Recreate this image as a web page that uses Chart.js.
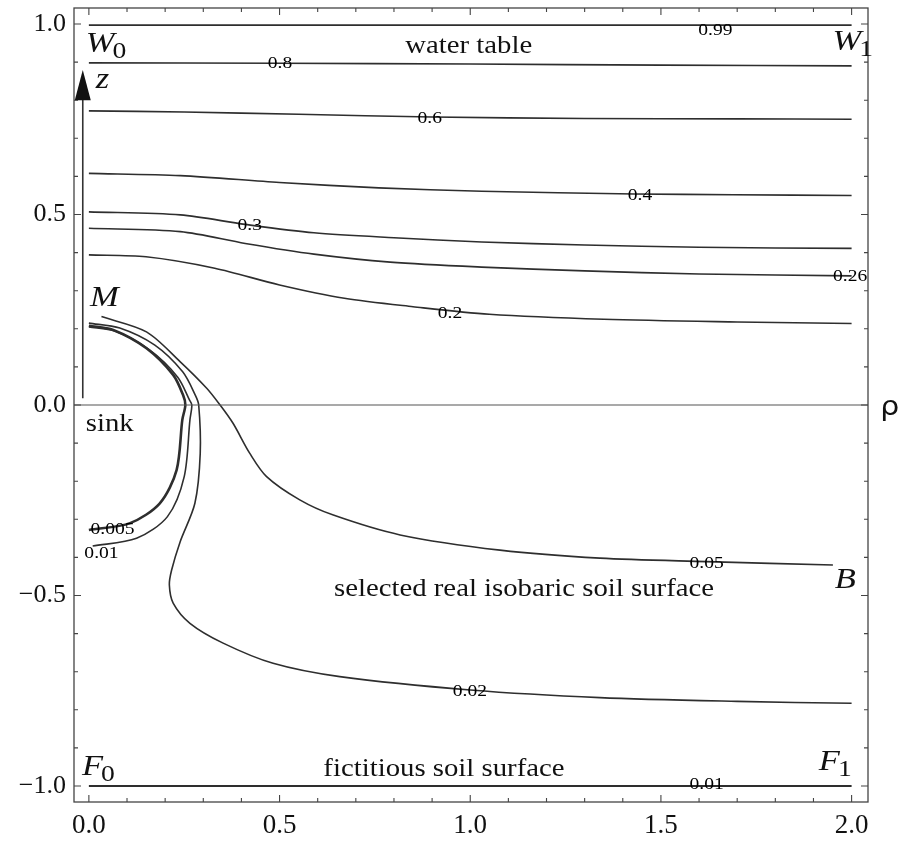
<!DOCTYPE html>
<html>
<head>
<meta charset="utf-8">
<script src="https://cdn.jsdelivr.net/npm/chart.js@4.4.0/dist/chart.umd.min.js"></script>
<style>
  html, body { margin: 0; padding: 0; background: #fff; }
</style>
</head>
<body>
<canvas id="isobarChart" width="900" height="841"></canvas>
<script>
// contour levels (isobars), rho = horizontal, z = vertical
const rho_099 = [0, 2.0];
const z_099   = [0.997, 0.997];

const rho_08 = [0, 0.5, 1.0, 1.5, 2.0];
const z_08   = [0.898, 0.897, 0.895, 0.892, 0.890];

const rho_06 = [0, 0.25, 0.55, 0.9, 1.3, 1.7, 2.0];
const z_06   = [0.772, 0.769, 0.763, 0.756, 0.752, 0.751, 0.750];

const rho_04 = [0, 0.24, 0.5, 0.76, 1.03, 1.43, 1.69, 2.0];
const z_04   = [0.608, 0.602, 0.584, 0.570, 0.561, 0.554, 0.552, 0.550];

const rho_03 = [0, 0.24, 0.41, 0.59, 0.8, 1.03, 1.3, 1.6, 2.0];
const z_03   = [0.507, 0.499, 0.474, 0.452, 0.439, 0.428, 0.420, 0.414, 0.411];

const rho_026 = [0, 0.24, 0.41, 0.59, 0.79, 1.03, 1.3, 1.6, 2.0];
const z_026   = [0.464, 0.455, 0.424, 0.396, 0.375, 0.362, 0.352, 0.344, 0.339];

const rho_02 = [0, 0.15, 0.33, 0.5, 0.67, 0.85, 1.05, 1.35, 1.7, 2.0];
const z_02   = [0.394, 0.389, 0.359, 0.315, 0.280, 0.258, 0.238, 0.225, 0.218, 0.214];

const rho_005 = [0.033, 0.151, 0.239, 0.309, 0.344, 0.378, 0.422, 0.466, 0.553, 0.641, 0.816, 1.078, 1.340, 1.620, 1.951];
const z_005   = [0.232, 0.192, 0.114, 0.044, 0.0, -0.048, -0.127, -0.188, -0.249, -0.289, -0.341, -0.381, -0.402, -0.411, -0.420];

const rho_002 = [0, 0.081, 0.173, 0.246, 0.279, 0.288, 0.292, 0.278, 0.239, 0.217, 0.211, 0.221, 0.265, 0.352, 0.483, 0.658, 1.0, 1.34, 1.7, 2.0];
const z_002   = [0.215, 0.202, 0.157, 0.087, 0.026, 0.0, -0.127, -0.258, -0.360, -0.433, -0.472, -0.520, -0.573, -0.625, -0.678, -0.713, -0.748, -0.768, -0.778, -0.783];

const rho_001 = [0, 0.068, 0.160, 0.233, 0.264, 0.270, 0.265, 0.250, 0.206, 0.125, 0.01];
const z_001   = [0.205, 0.194, 0.144, 0.073, 0.013, 0.0, -0.039, -0.188, -0.293, -0.350, -0.370];

const rho_0005 = [0, 0.064, 0.151, 0.221, 0.247, 0.253, 0.245, 0.230, 0.186, 0.108, 0];
const z_0005   = [0.208, 0.197, 0.149, 0.079, 0.026, 0.0, -0.039, -0.171, -0.258, -0.310, -0.328];

const rho_bottom = [0, 2.0];
const z_bottom   = [-1.0, -1.0];

// tick labels
const xTickValues = [0, 0.5, 1.0, 1.5, 2.0];
const yTickValues = [-1.0, -0.5, 0, 0.5, 1.0];

// contour labels: text, rho, z
const contourLabels = [
    ['0.99', 1.643, 0.984],
    ['0.8', 0.501, 0.897],
    ['0.6', 0.894, 0.751],
    ['0.4', 1.445, 0.551],
    ['0.3', 0.422, 0.470],
    ['0.26', 1.996, 0.337],
    ['0.2', 0.947, 0.241],
    ['0.05', 1.620, -0.415],
    ['0.02', 0.999, -0.753],
    ['0.01', 1.620, -0.996],
    ['0.005', 0.062, -0.328],
    ['0.01', 0.033, -0.389]
];

function toPoints(rho, z) {
    return rho.map((r, i) => ({ x: r, y: z[i] }));
}

const LINE = '#2e2e2e';
const SERIF = '"Liberation Serif", "DejaVu Serif", serif';
const STRETCH = 1.15; // the source figure's lettering is a bit wide

function contour(rho, z, width, tension) {
    return {
        data: toPoints(rho, z),
        showLine: true,
        pointRadius: 0,
        borderColor: LINE,
        borderWidth: width || 1.6,
        tension: tension === undefined ? 0.3 : tension,
        fill: false
    };
}

// text drawn slightly widened, anchored at (x, y)
function wideText(ctx, text, x, y, align) {
    const w = ctx.measureText(text).width * STRETCH;
    let x0 = x;
    if (align === 'center') x0 = x - w / 2;
    else if (align === 'right') x0 = x - w;
    ctx.save();
    ctx.textAlign = 'left';
    ctx.translate(x0, y);
    ctx.scale(STRETCH, 1);
    ctx.fillText(text, 0, 0);
    ctx.restore();
    return w;
}

// draws frame, inward ticks, zero axis, arrow and all text
const decorations = {
    id: 'decorations',
    afterDraw(chart) {
        const ctx = chart.ctx;
        const area = chart.chartArea;
        const xs = chart.scales.x;
        const ys = chart.scales.y;
        const px = v => xs.getPixelForValue(v);
        const py = v => ys.getPixelForValue(v);

        ctx.save();

        // zero line (rho axis)
        ctx.strokeStyle = '#555';
        ctx.lineWidth = 1.2;
        ctx.beginPath();
        ctx.moveTo(area.left, py(0));
        ctx.lineTo(area.right, py(0));
        ctx.stroke();

        // frame
        ctx.strokeStyle = '#444';
        ctx.lineWidth = 1.3;
        ctx.strokeRect(area.left, area.top, area.right - area.left, area.bottom - area.top);

        // inward ticks every 0.1, longer every 0.5
        ctx.lineWidth = 1.1;
        ctx.beginPath();
        for (let i = 0; i <= 20; i++) {
            const len = i % 5 === 0 ? 7 : 4;
            const x = px(i / 10);
            ctx.moveTo(x, area.bottom); ctx.lineTo(x, area.bottom - len);
            ctx.moveTo(x, area.top); ctx.lineTo(x, area.top + len);
            const y = py(-1 + i / 10);
            ctx.moveTo(area.left, y); ctx.lineTo(area.left + len, y);
            ctx.moveTo(area.right, y); ctx.lineTo(area.right - len, y);
        }
        ctx.stroke();

        // z arrow
        const ax = px(-0.016);
        ctx.strokeStyle = '#333';
        ctx.fillStyle = '#111';
        ctx.lineWidth = 1.6;
        ctx.beginPath();
        ctx.moveTo(ax, py(0.018));
        ctx.lineTo(ax, py(0.81));
        ctx.stroke();
        ctx.beginPath();
        ctx.moveTo(ax, py(0.879));
        ctx.lineTo(ax - 8, py(0.80));
        ctx.lineTo(ax + 8, py(0.80));
        ctx.closePath();
        ctx.fill();

        // contour labels
        ctx.fillStyle = '#000';
        ctx.font = '17px ' + SERIF;
        ctx.textBaseline = 'middle';
        contourLabels.forEach(([t, r, z]) => wideText(ctx, t, px(r), py(z), 'center'));

        // plain text annotations
        ctx.fillStyle = '#111';
        ctx.font = '25px ' + SERIF;
        ctx.textBaseline = 'alphabetic';
        wideText(ctx, 'water table', px(0.996), py(0.925), 'center');
        wideText(ctx, 'selected real isobaric soil surface', px(1.141), py(-0.501), 'center');
        wideText(ctx, 'fictitious soil surface', px(0.931), py(-0.974), 'center');
        wideText(ctx, 'sink', px(-0.008), py(-0.068), 'left');
        ctx.font = '26px "DejaVu Sans", sans-serif';
        wideText(ctx, '\u03c1', px(2.10), py(-0.026), 'center');

        // italic letters with subscripts
        const italic = (letter, sub, x, y) => {
            ctx.font = 'italic 30px ' + SERIF;
            const w = wideText(ctx, letter, x, y, 'left');
            if (sub) {
                ctx.font = '24px ' + SERIF;
                wideText(ctx, sub, x + w - 2, y + 6, 'left');
            }
        };
        italic('W', '0', px(-0.008), py(0.927));
        italic('W', '1', px(1.950), py(0.932));
        italic('z', '', px(0.018), py(0.832));
        italic('M', '', px(0.003), py(0.26));
        italic('B', '', px(1.956), py(-0.48));
        italic('F', '0', px(-0.018), py(-0.971));
        italic('F', '1', px(1.914), py(-0.958));

        ctx.restore();
    }
};

function fmt(v) {
    const s = Math.abs(v).toFixed(1);
    return v < 0 ? '\u2212' + s : s;
}

const ctx = document.getElementById('isobarChart').getContext('2d');
new Chart(ctx, {
    type: 'scatter',
    data: {
        datasets: [
            contour(rho_099, z_099, 1.8, 0),
            contour(rho_08, z_08),
            contour(rho_06, z_06),
            contour(rho_04, z_04),
            contour(rho_03, z_03),
            contour(rho_026, z_026),
            contour(rho_02, z_02),
            contour(rho_005, z_005),
            contour(rho_002, z_002),
            contour(rho_001, z_001),
            contour(rho_0005, z_0005, 2.6),
            contour(rho_bottom, z_bottom, 1.8, 0)
        ]
    },
    options: {
        responsive: false,
        animation: false,
        layout: { padding: { top: 8, right: 32, left: 0, bottom: 0 } },
        plugins: { legend: { display: false }, tooltip: { enabled: false } },
        scales: {
            x: {
                type: 'linear',
                min: -0.039,
                max: 2.043,
                afterFit(s) {
                    s.height = 39;
                    s.paddingLeft = 0;
                    s.paddingRight = 0;
                },
                afterBuildTicks(s) { s.ticks = xTickValues.map(v => ({ value: v })); },
                grid: { display: false, drawTicks: false },
                border: { display: false },
                ticks: {
                    padding: 8,
                    color: '#111',
                    font: { family: SERIF, size: 27 },
                    callback: v => fmt(v)
                }
            },
            y: {
                type: 'linear',
                min: -1.042,
                max: 1.042,
                afterFit(s) {
                    s.width = 74;
                    s.paddingTop = 0;
                    s.paddingBottom = 0;
                },
                afterBuildTicks(s) { s.ticks = yTickValues.map(v => ({ value: v })); },
                grid: { display: false, drawTicks: false },
                border: { display: false },
                ticks: {
                    padding: 8,
                    color: '#111',
                    font: { family: SERIF, size: 26 },
                    callback: v => fmt(v)
                }
            }
        }
    },
    plugins: [decorations]
});
</script>
</body>
</html>
